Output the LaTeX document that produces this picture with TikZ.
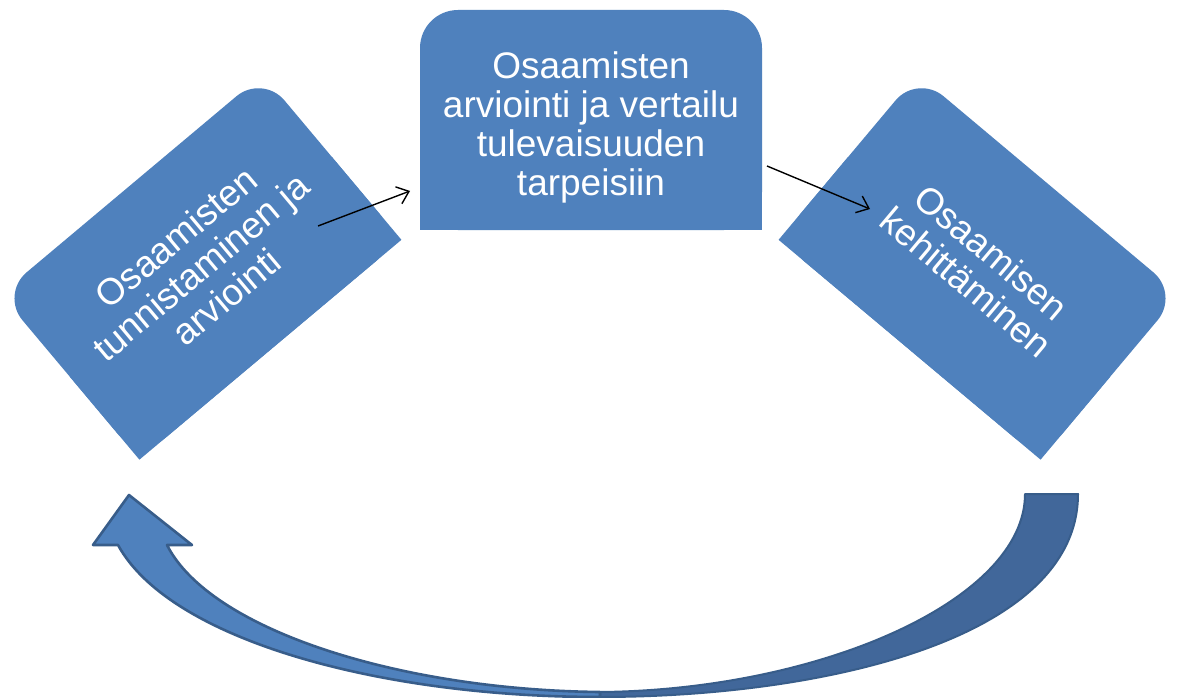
\documentclass[tikz,border=0pt]{standalone}
\usepackage{fontspec}
\setmainfont{Liberation Sans}
\usetikzlibrary{arrows.meta}
\definecolor{boxblue}{HTML}{4F81BD}
\definecolor{arrdark}{HTML}{41679A}
\definecolor{arrline}{HTML}{385D8A}
\begin{document}
\begin{tikzpicture}[x=1pt,y=-1pt,
  boxshape/.style={fill=boxblue, draw=none, rounded corners=34pt, minimum width=342pt, minimum height=216pt, inner sep=0pt, outer sep=0pt},
  boxtext/.style={text=white, font=\fontsize{37}{39}\selectfont, align=center, inner sep=0pt},
  conn/.style={line width=1.4pt, -{Straight Barb[length=11pt,width=18pt,line width=1.4pt]}},
  bigarrow/.style={draw=arrline, line width=2.6pt, line join=round}]
\useasboundingbox[fill=white] (0,0) rectangle (1177,698);
% center box
\node[boxshape, minimum height=220pt, rounded corners=38pt] (C) at (591,120) {};
\fill[boxblue] (C.west) rectangle (C.south east);
\node[boxtext] (Ct) at (591,127) {Osaamisten\\arviointi ja vertailu\\tulevaisuuden\\tarpeisiin};
% left box
\node[boxshape, rotate=40] (L) at (201,267) {};
\fill[boxblue] (L.west) -- (L.east) -- (L.south east) -- (L.south west) -- cycle;
\node[boxtext, rotate=40] (Lt) at (L.center) {Osaamisten\\tunnistaminen ja\\arviointi};
% right box
\node[boxshape, rotate=-40] (R) at (979,267) {};
\fill[boxblue] (R.west) -- (R.east) -- (R.south east) -- (R.south west) -- cycle;
\node[boxtext, rotate=-40] (Rt) at (R.center) {Osaamisen\\kehittäminen};
% connectors
\coordinate (a1s) at (318,226);
\coordinate (a1e) at (410,191);
\coordinate (a2s) at (767,166);
\coordinate (a2e) at (870,209);
\draw[conn] (a1s) -- (a1e);
\draw[conn] (a2s) -- (a2e);
% bottom curved arrow
\filldraw[bigarrow, fill=arrdark, line width=2pt] (1025,494) -- (1078,494) .. controls (1078,640) and (820,697) .. (600,697) -- (600,692) .. controls (820,690) and (1025,600) .. (1025,494) -- cycle;
\filldraw[bigarrow, fill=boxblue] (600,697) .. controls (380,697) and (170,640) .. (118,545) -- (93,545) -- (129,495) -- (192,545) -- (167,545) .. controls (210,630) and (400,690) .. (600,692) -- cycle;
\end{tikzpicture}
\end{document}
